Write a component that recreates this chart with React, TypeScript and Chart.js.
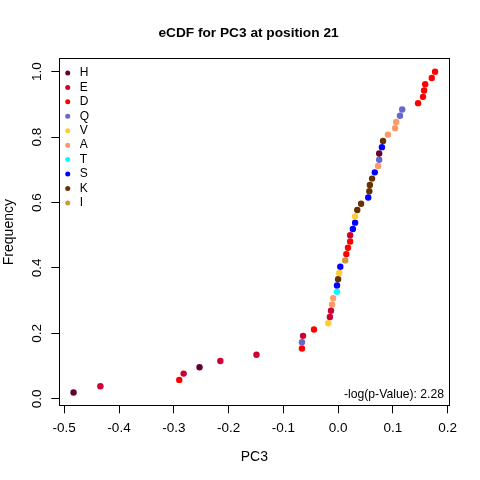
import { useEffect, useRef } from "react";
import { Chart, registerables } from "chart.js";

Chart.register(...registerables);

const FONT = "'Liberation Sans', Arial, Helvetica, sans-serif";

const TITLE = "eCDF for PC3 at position 21";
const X_LABEL = "PC3";
const Y_LABEL = "Frequency";
const P_VALUE_LABEL = "-log(p-Value): 2.28";

// legend order
const RESIDUES = ["H", "E", "D", "Q", "V", "A", "T", "S", "K", "I"];
const RESIDUE_COLORS = [
  "#660033",
  "#CC0033",
  "#FF0000",
  "#6666CC",
  "#FFCC33",
  "#FF9966",
  "#00FFFF",
  "#0000FF",
  "#663300",
  "#CC9933",
];

// PC3 values, sorted ascending, and the residue at each one
const PC3_VALUES = [
  -0.483, -0.434, -0.29, -0.282, -0.253, -0.215, -0.149, -0.066, -0.066, -0.064,
  -0.044, -0.018, -0.015, -0.013, -0.011, -0.009, -0.002, -0.002, 0.0, 0.002,
  0.004, 0.013, 0.015, 0.018, 0.022, 0.022, 0.027, 0.031, 0.031, 0.035,
  0.042, 0.055, 0.057, 0.058, 0.062, 0.067, 0.073, 0.075, 0.075, 0.08,
  0.082, 0.091, 0.104, 0.106, 0.113, 0.117, 0.146, 0.155, 0.157, 0.159,
  0.171, 0.177,
];
const PC3_RESIDUES = [
  "H", "E", "D", "E", "H", "E", "E", "D", "Q", "E",
  "D", "V", "E", "E", "A", "A", "T", "S", "K", "V",
  "S", "I", "D", "D", "D", "E", "S", "S", "V", "K",
  "K", "S", "K", "K", "K", "S", "A", "Q", "H", "S",
  "K", "A", "A", "A", "Q", "Q", "D", "D", "D", "D",
  "D", "D",
];

const X_TICKS = [-0.5, -0.4, -0.3, -0.2, -0.1, 0, 0.1, 0.2];
const Y_TICKS = [0, 0.2, 0.4, 0.6, 0.8, 1.0];
const X_MIN = -0.509;
const X_MAX = 0.203;
const Y_MIN = -0.02;
const Y_MAX = 1.039;

const fmt = (v: number | string) => {
  const n = Number(v);
  return Math.abs(n) < 1e-9 ? "0.0" : n.toFixed(1);
};

// the p-value note in the bottom right corner of the plot
const pValuePlugin = {
  id: "pValueNote",
  afterDatasetsDraw(chart: Chart) {
    const { ctx, chartArea } = chart;
    ctx.save();
    ctx.font = `12.2px ${FONT}`;
    ctx.fillStyle = "#000";
    ctx.textAlign = "right";
    ctx.textBaseline = "alphabetic";
    ctx.fillText(P_VALUE_LABEL, chartArea.right - 5.3, chartArea.bottom - 7.8);
    ctx.restore();
  },
};

// a vertical legend in the chart area gets top = 0; pin it to the plot's top edge
const legendTopPlugin = {
  id: "legendTop",
  afterLayout(chart: Chart) {
    const lg: any = (chart as any).legend;
    if (!lg) return;
    const h = lg.bottom - lg.top;
    lg.top = chart.chartArea.top;
    lg.bottom = lg.top + h;
  },
};

export default function App() {
  const canvasRef = useRef<HTMLCanvasElement>(null);

  useEffect(() => {
    document.body.style.margin = "0";
    if (!canvasRef.current) return;

    const n = PC3_VALUES.length;
    const datasets = RESIDUES.map((res, k) => ({
      label: res,
      data: PC3_VALUES.map((x, i) => ({ x, y: (i + 1) / n, res: PC3_RESIDUES[i] }))
        .filter((p) => p.res === res)
        .map(({ x, y }) => ({ x, y })),
      backgroundColor: RESIDUE_COLORS[k],
      borderColor: RESIDUE_COLORS[k],
      borderWidth: 0,
      pointRadius: 3.2,
      pointHoverRadius: 3.2,
    }));

    const chart = new Chart(canvasRef.current, {
      type: "scatter",
      data: { datasets },
      plugins: [pValuePlugin, legendTopPlugin],
      options: {
        animation: false,
        responsive: true,
        maintainAspectRatio: false,
        devicePixelRatio: 1,
        events: [],
        layout: { padding: { left: 17, right: 0, top: 0, bottom: 0 } },
        plugins: {
          tooltip: { enabled: false },
          title: {
            display: true,
            text: TITLE,
            color: "#000",
            font: { family: FONT, size: 13.7, weight: "bold" },
            padding: { top: 24.9, bottom: 17.6 },
          },
          legend: {
            position: "chartArea",
            align: "start",
            title: { display: true, text: "", font: { size: 1 }, padding: { top: 2.18, bottom: 2.18 } },
            labels: {
              usePointStyle: true,
              pointStyle: "circle",
              boxWidth: 12,
              boxHeight: 3.54,
              padding: 2.44,
              color: "#000",
              font: { family: FONT, size: 12 },
            },
          },
        },
        scales: {
          x: {
            type: "linear",
            position: "bottom",
            min: X_MIN,
            max: X_MAX,
            afterBuildTicks: (scale) => {
              scale.ticks = X_TICKS.map((value) => ({ value }));
            },
            afterFit: (scale) => {
              scale.height = 74.7;
            },
            ticks: {
              autoSkip: false,
              maxRotation: 0,
              padding: 6.4,
              color: "#000",
              font: { family: FONT, size: 13.5 },
              callback: fmt,
            },
            grid: { drawOnChartArea: false, drawTicks: true, tickLength: 8, color: "#000", tickColor: "#000" },
            border: { display: true, color: "#000", width: 1 },
            title: {
              display: true,
              text: X_LABEL,
              color: "#000",
              font: { family: FONT, size: 14 },
              padding: { top: 0, bottom: 14.6 },
            },
          },
          y: {
            type: "linear",
            position: "left",
            min: Y_MIN,
            max: Y_MAX,
            afterBuildTicks: (scale) => {
              scale.ticks = Y_TICKS.map((value) => ({ value }));
            },
            afterFit: (scale) => {
              scale.width = 42.3;
            },
            ticks: {
              autoSkip: false,
              minRotation: 90,
              maxRotation: 90,
              crossAlign: "center",
              padding: 4.6,
              color: "#000",
              font: { family: FONT, size: 13.5 },
              callback: fmt,
            },
            grid: { drawOnChartArea: false, drawTicks: true, tickLength: 8, color: "#000", tickColor: "#000" },
            border: { display: true, color: "#000", width: 1 },
            title: {
              display: true,
              text: Y_LABEL,
              color: "#000",
              font: { family: FONT, size: 14 },
              padding: { top: -16.6, bottom: 0 },
            },
          },
          // box edges (top and right)
          x2: {
            type: "linear",
            position: "top",
            min: X_MIN,
            max: X_MAX,
            afterFit: (scale) => {
              scale.height = 0;
            },
            ticks: { display: false },
            grid: { display: false, drawTicks: false },
            border: { display: true, color: "#000", width: 1 },
          },
          y2: {
            type: "linear",
            position: "right",
            min: Y_MIN,
            max: Y_MAX,
            afterFit: (scale) => {
              scale.width = 30.7;
            },
            ticks: { display: false },
            grid: { display: false, drawTicks: false },
            border: { display: true, color: "#000", width: 1 },
          },
        },
      },
    });

    return () => chart.destroy();
  }, []);

  return (
    <div style={{ position: "relative", width: 480, height: 480, background: "#fff" }}>
      <canvas ref={canvasRef} role="img" aria-label={TITLE} />
    </div>
  );
}
